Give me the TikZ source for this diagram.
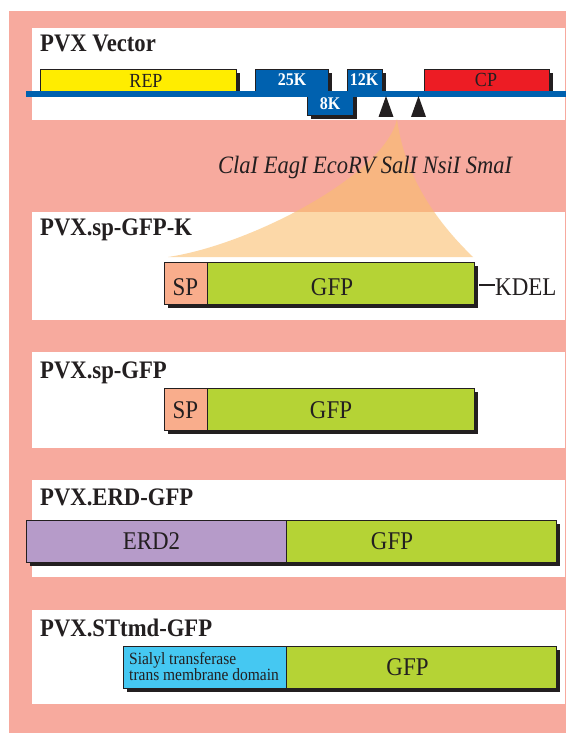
\documentclass[tikz,border=0pt]{standalone}
\usepackage{fontspec}
\setmainfont{Liberation Serif}[FakeStretch=0.9]
\usetikzlibrary{shadows}

\definecolor{ink}{HTML}{231F20}
\definecolor{frame}{HTML}{F7AA9E}
\definecolor{repY}{HTML}{FFED00}
\definecolor{orfB}{HTML}{0061AF}
\definecolor{cpR}{HTML}{ED1C24}
\definecolor{spS}{HTML}{F9AD8C}
\definecolor{gfpG}{HTML}{B5D335}
\definecolor{erdP}{HTML}{B69BC9}
\definecolor{stC}{HTML}{45C8F2}
\definecolor{fanO}{RGB}{250,190,110}

\tikzset{
  panel/.style={fill=white},
  gene/.style={draw=ink, line width=0.9bp, inner sep=0pt, anchor=north west,
    drop shadow={shadow xshift=3.5bp, shadow yshift=-3.5bp, opacity=1, fill=ink}},
  lbl/.style={inner sep=0pt, anchor=base, text=ink, font=\fontsize{25.5bp}{28bp}\selectfont},
  small/.style={inner sep=0pt, anchor=base, text=ink, font=\fontsize{20bp}{22bp}\selectfont},
  orflbl/.style={inner sep=0pt, anchor=base, text=white, font=\fontsize{17.8bp}{20bp}\selectfont\bfseries},
  title/.style={inner sep=0pt, anchor=base west, text=ink, font=\fontsize{25.2bp}{28bp}\selectfont\bfseries},
  stlbl/.style={inner sep=0pt, anchor=base west, text=ink, font=\fontsize{17.2bp}{18bp}\selectfont},
  backbone/.style={draw=orfB, line width=5.5bp},
  site/.style={fill=ink},
  fan/.style={fill=fanO, fill opacity=0.6},
}

\begin{document}
\begin{tikzpicture}[x=1bp, y=-1bp]
  \useasboundingbox (0,0) rectangle (566,733);

  % background frame and white panels
  \fill[frame] (9,11) rectangle (566,733);
  \fill[panel] (32,28) rectangle (565,120);
  \fill[panel] (32,212) rectangle (565,320);
  \fill[panel] (32,352) rectangle (565,448);
  \fill[panel] (32,480) rectangle (565,577);
  \fill[panel] (32,610) rectangle (565,704);

  % ---- PVX vector ----
  \node[title] (t1) at (40,52) {PVX Vector};
  \node[gene, fill=repY, minimum width=196bp, minimum height=24bp] (rep) at (40,69) {};
  \node[gene, fill=orfB, minimum width=73bp, minimum height=24bp] (k25) at (255,69) {};
  \node[gene, fill=orfB, minimum width=35bp, minimum height=24bp] (k12) at (347,69) {};
  \node[gene, fill=cpR, minimum width=125bp, minimum height=24bp] (cp) at (424,69) {};
  \node[gene, fill=orfB, minimum width=46bp, minimum height=22bp] (k8) at (307,93) {};
  \node[small] (rep-t) at (146,87.3) {REP};
  \node[orflbl] (k25-t) at (292,86) {25K};
  \node[orflbl] (k12-t) at (364,86) {12K};
  \node[orflbl] (k8-t) at (330,110) {8K};
  \node[small] (cp-t) at (486,87) {CP};
  \coordinate (bbL) at (26,94);
  \coordinate (bbR) at (566,94);
  \draw[backbone] (bbL) -- (bbR);
  % cloning sites
  \coordinate (s1) at (386,96);
  \coordinate (s2) at (418.5,96);
  \fill[site] (s1) -- ++(7.5,21) -- ++(-15,0) -- cycle;
  \fill[site] (s2) -- ++(7.5,21) -- ++(-15,0) -- cycle;

  % expansion of the cloning region
  \fill[fan] (397,119) .. controls (405,180) and (440,225) .. (473,257)
    -- (168,257) .. controls (250,245) and (385,175) .. (397,119) -- cycle;
  \node[inner sep=0pt, anchor=base west, text=ink,
        font=\fontsize{25bp}{28bp}\selectfont\itshape] (sites) at (218,173.3)
        {ClaI EagI EcoRV SalI NsiI SmaI};

  % ---- PVX.sp-GFP-K ----
  \node[title] (t2) at (40,235) {PVX.sp-GFP-K};
  \node[gene, fill=spS, minimum width=43bp, minimum height=42bp] (sp2) at (164,262) {};
  \node[gene, fill=gfpG, minimum width=267bp, minimum height=42bp] (gfp2) at (207,262) {};
  \node[lbl] (sp2-t) at (185.5,295) {SP};
  \node[lbl] (gfp2-t) at (332,295) {GFP};
  \node[lbl, anchor=base west] (kdel) at (495,295) {KDEL};
  \coordinate (kd) at (479,285);
  \draw[ink, line width=2.3bp] (kd) -- (kd -| kdel.west);

  % ---- PVX.sp-GFP ----
  \node[title] (t3) at (40,378) {PVX.sp-GFP};
  \node[gene, fill=spS, minimum width=43bp, minimum height=42bp] (sp3) at (164,388) {};
  \node[gene, fill=gfpG, minimum width=267bp, minimum height=42bp] (gfp3) at (207,388) {};
  \node[lbl] (sp3-t) at (185.5,418) {SP};
  \node[lbl] (gfp3-t) at (331,418) {GFP};

  % ---- PVX.ERD-GFP ----
  \node[title] (t4) at (40,505) {PVX.ERD-GFP};
  \node[gene, fill=erdP, minimum width=260bp, minimum height=42bp] (erd) at (26,520) {};
  \node[gene, fill=gfpG, minimum width=270bp, minimum height=42bp] (gfp4) at (286,520) {};
  \node[lbl] (erd-t) at (151.5,549) {ERD2};
  \node[lbl] (gfp4-t) at (392,549) {GFP};

  % ---- PVX.STtmd-GFP ----
  \node[title] (t5) at (40,636) {PVX.STtmd-GFP};
  \node[gene, fill=stC, minimum width=163bp, minimum height=42bp] (st) at (123,646) {};
  \node[gene, fill=gfpG, minimum width=270bp, minimum height=42bp] (gfp5) at (286,646) {};
  \node[stlbl] (st-t1) at (129,664.5) {Sialyl transferase};
  \node[stlbl] (st-t2) at (129,680.5) {trans membrane domain};
  \node[lbl] (gfp5-t) at (407.5,675) {GFP};
\end{tikzpicture}
\end{document}
